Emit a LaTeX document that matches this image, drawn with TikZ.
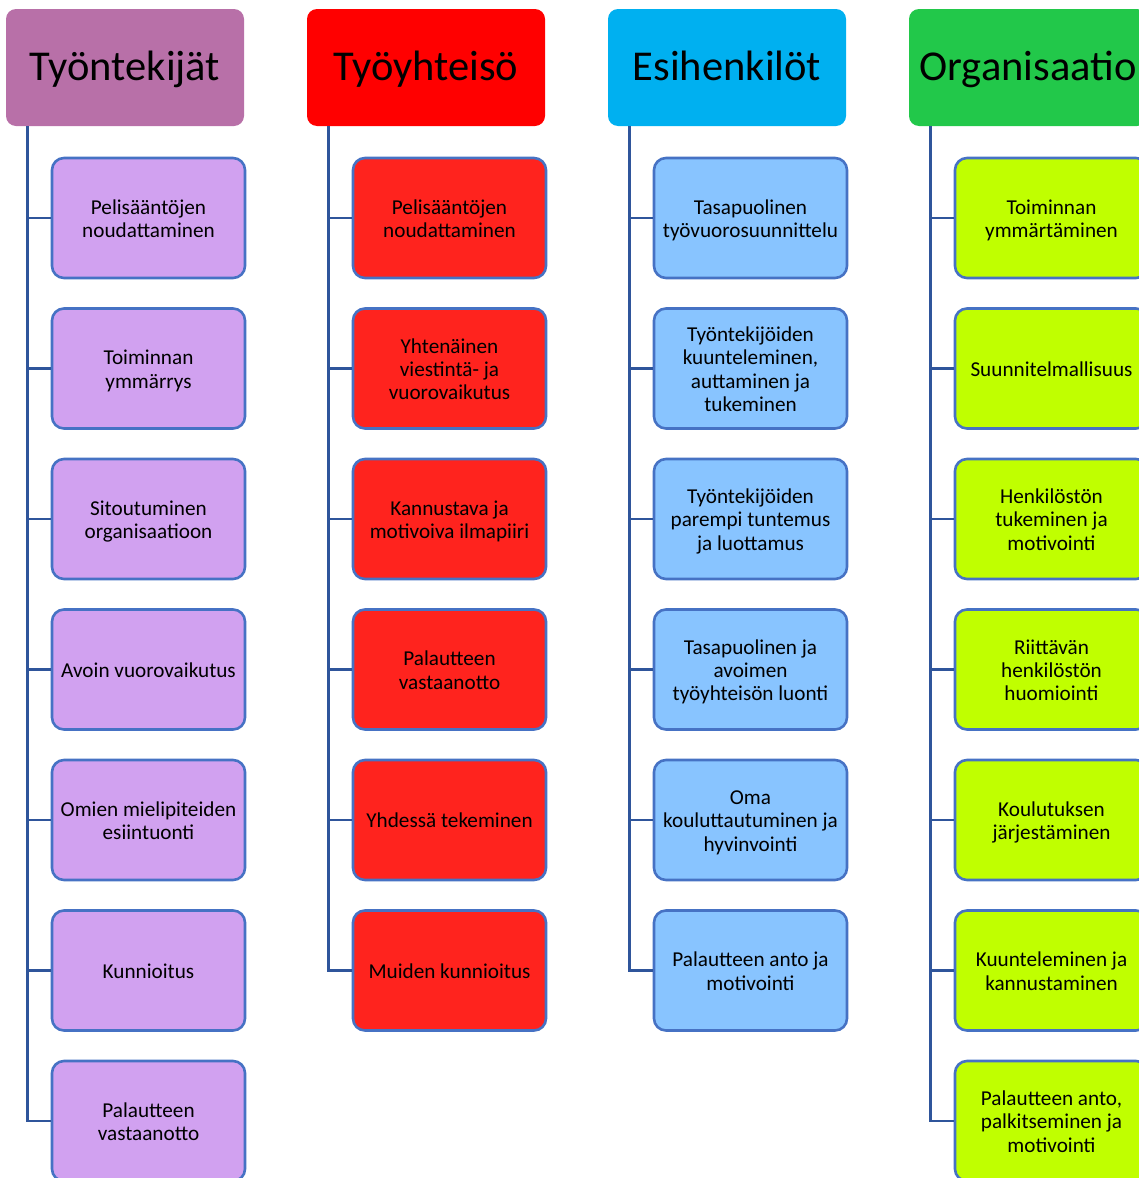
\documentclass[tikz,border=0pt]{standalone}
\usepackage{fontspec}
\setmainfont{Carlito}
\definecolor{hA}{RGB}{184,112,168}
\definecolor{hB}{RGB}{255,0,0}
\definecolor{hC}{RGB}{0,176,240}
\definecolor{hD}{RGB}{34,200,74}
\definecolor{fA}{RGB}{209,161,240}
\definecolor{fB}{RGB}{255,35,30}
\definecolor{fC}{RGB}{136,196,255}
\definecolor{fD}{RGB}{192,255,0}
\definecolor{itemborder}{RGB}{70,114,196}
\definecolor{connblue}{RGB}{47,85,155}
\newcommand{\itm}[1]{\raisebox{-3.2pt}[\height][\depth]{\begin{tabular}{@{}c@{}}#1\end{tabular}}}
\tikzset{
  hdr/.style={rounded corners=10pt, minimum width=238pt, minimum height=117pt, inner sep=0pt, text height=30pt, text depth=5pt, font=\fontsize{42.5}{50}\selectfont},
  item/.style={draw=itemborder, line width=2.6pt, rounded corners=12pt, minimum width=193pt, minimum height=120pt, inner sep=0pt, font=\fontsize{21.2}{23.3}\selectfont},
  conn/.style={draw=connblue, line width=2.8pt}
}
\begin{document}
\begin{tikzpicture}[x=1pt,y=-1pt]
\useasboundingbox (0,0) rectangle (1139,1178);
\clip (0,0) rectangle (1139,1178);
\fill[white] (0,0) rectangle (1139,1178);
% headers
\node[hdr, fill=hA] (hA) at (125,67.5) {Työntekijät};
\node[hdr, fill=hB] (hB) at (426,67.5) {Työyhteisö};
\node[hdr, fill=hC] (hC) at (727,67.5) {Esihenkilöt};
\node[hdr, fill=hD] (hD) at (1028,67.5) {Organisaatio};
% column A
\node[item, fill=fA] (a1) at (148.5,218) {\itm{Pelisääntöjen\\noudattaminen}};
\node[item, fill=fA] (a2) at (148.5,368.5) {\itm{Toiminnan\\ymmärrys}};
\node[item, fill=fA] (a3) at (148.5,519) {\itm{Sitoutuminen\\organisaatioon}};
\node[item, fill=fA] (a4) at (148.5,669.5) {\itm{Avoin vuorovaikutus}};
\node[item, fill=fA] (a5) at (148.5,820) {\itm{Omien mielipiteiden\\esiintuonti}};
\node[item, fill=fA] (a6) at (148.5,970.5) {\itm{Kunnioitus}};
\node[item, fill=fA] (a7) at (148.5,1121) {\itm{Palautteen\\vastaanotto}};
% column B
\node[item, fill=fB] (b1) at (449.5,218) {\itm{Pelisääntöjen\\noudattaminen}};
\node[item, fill=fB] (b2) at (449.5,368.5) {\itm{Yhtenäinen\\viestintä- ja\\vuorovaikutus}};
\node[item, fill=fB] (b3) at (449.5,519) {\itm{Kannustava ja\\motivoiva ilmapiiri}};
\node[item, fill=fB] (b4) at (449.5,669.5) {\itm{Palautteen\\vastaanotto}};
\node[item, fill=fB] (b5) at (449.5,820) {\itm{Yhdessä tekeminen}};
\node[item, fill=fB] (b6) at (449.5,970.5) {\itm{Muiden kunnioitus}};
% column C
\node[item, fill=fC] (c1) at (750.5,218) {\itm{Tasapuolinen\\työvuorosuunnittelu}};
\node[item, fill=fC] (c2) at (750.5,368.5) {\itm{Työntekijöiden\\kuunteleminen,\\auttaminen ja\\tukeminen}};
\node[item, fill=fC] (c3) at (750.5,519) {\itm{Työntekijöiden\\parempi tuntemus\\ja luottamus}};
\node[item, fill=fC] (c4) at (750.5,669.5) {\itm{Tasapuolinen ja\\avoimen\\työyhteisön luonti}};
\node[item, fill=fC] (c5) at (750.5,820) {\itm{Oma\\kouluttautuminen ja\\hyvinvointi}};
\node[item, fill=fC] (c6) at (750.5,970.5) {\itm{Palautteen anto ja\\motivointi}};
% column D
\node[item, fill=fD] (d1) at (1051.5,218) {\itm{Toiminnan\\ymmärtäminen}};
\node[item, fill=fD] (d2) at (1051.5,368.5) {\itm{Suunnitelmallisuus}};
\node[item, fill=fD] (d3) at (1051.5,519) {\itm{Henkilöstön\\tukeminen ja\\motivointi}};
\node[item, fill=fD] (d4) at (1051.5,669.5) {\itm{Riittävän\\henkilöstön\\huomiointi}};
\node[item, fill=fD] (d5) at (1051.5,820) {\itm{Koulutuksen\\järjestäminen}};
\node[item, fill=fD] (d6) at (1051.5,970.5) {\itm{Kuunteleminen ja\\kannustaminen}};
\node[item, fill=fD] (d7) at (1051.5,1121) {\itm{Palautteen anto,\\palkitseminen ja\\motivointi}};
% connectors
\foreach \n in {a1,a2,a3,a4,a5,a6,a7}
  \draw[conn] ([xshift=22pt]hA.south west) |- (\n.west);
\foreach \n in {b1,b2,b3,b4,b5,b6}
  \draw[conn] ([xshift=22pt]hB.south west) |- (\n.west);
\foreach \n in {c1,c2,c3,c4,c5,c6}
  \draw[conn] ([xshift=22pt]hC.south west) |- (\n.west);
\foreach \n in {d1,d2,d3,d4,d5,d6,d7}
  \draw[conn] ([xshift=22pt]hD.south west) |- (\n.west);
\end{tikzpicture}
\end{document}
